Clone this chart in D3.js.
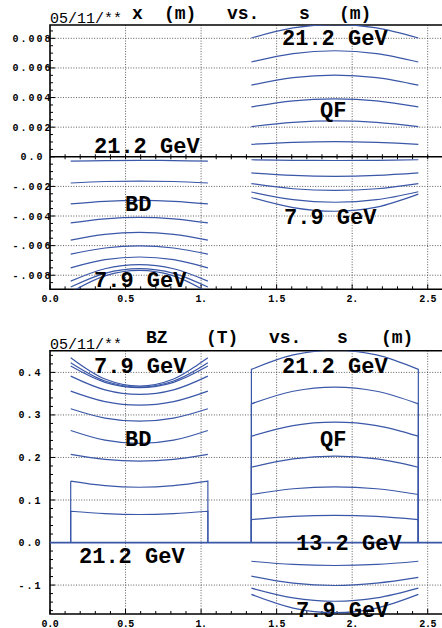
<!DOCTYPE html>
<html>
<head>
<meta charset="utf-8">
<script src="https://cdn.jsdelivr.net/npm/d3@7/dist/d3.min.js"></script>
<style>
  html, body { margin: 0; padding: 0; background: #fff; }
  svg { display: block; }
  text { font-family: "Liberation Mono", "DejaVu Sans Mono", monospace; }
</style>
</head>
<body>
<svg id="chart" width="442" height="628"></svg>
<script>
// ---- sample positions along the beam line (m) ----
const sBD = [0.137, 0.364, 0.591, 0.818, 1.045];
const sQF = [1.333, 1.609, 1.886, 2.162, 2.438];

// ---- horizontal orbit x (m) inside BD, one row per beam energy ----
const xBD = [
  [-0.00030, -0.00026, -0.00024, -0.00026, -0.00030],
  [-0.00177, -0.00167, -0.00164, -0.00167, -0.00177],
  [-0.00318, -0.00301, -0.00295, -0.00301, -0.00318],
  [-0.00447, -0.00419, -0.00409, -0.00419, -0.00447],
  [-0.00563, -0.00524, -0.00511, -0.00524, -0.00563],
  [-0.00658, -0.00616, -0.00602, -0.00616, -0.00658],
  [-0.00750, -0.00695, -0.00677, -0.00695, -0.00750],
  [-0.00840, -0.00756, -0.00728, -0.00756, -0.00840],
  [-0.00880, -0.00787, -0.00756, -0.00787, -0.00880],
  [-0.00915, -0.00804, -0.00767, -0.00804, -0.00915]
];

// ---- horizontal orbit x (m) inside QF ----
const xQF = [
  [0.00802, 0.00870, 0.00893, 0.00870, 0.00802],
  [0.00640, 0.00697, 0.00716, 0.00697, 0.00640],
  [0.00484, 0.00535, 0.00552, 0.00535, 0.00484],
  [0.00337, 0.00378, 0.00391, 0.00378, 0.00337],
  [0.00204, 0.00233, 0.00243, 0.00233, 0.00204],
  [0.00084, 0.00097, 0.00102, 0.00097, 0.00084],
  [-0.00020, -0.00024, -0.00025, -0.00024, -0.00020],
  [-0.00109, -0.00126, -0.00132, -0.00126, -0.00109],
  [-0.00181, -0.00216, -0.00227, -0.00216, -0.00181],
  [-0.00238, -0.00290, -0.00307, -0.00290, -0.00236],
  [-0.00275, -0.00343, -0.00368, -0.00340, -0.00252]
];

// ---- vertical field BZ (T) seen along each orbit in BD ----
const bzBD = [
  [0.0736, 0.0680, 0.0659, 0.0680, 0.0736],
  [0.1442, 0.1336, 0.1300, 0.1336, 0.1442],
  [0.2071, 0.1953, 0.1913, 0.1953, 0.2071],
  [0.2635, 0.2406, 0.2329, 0.2406, 0.2635],
  [0.3146, 0.2927, 0.2854, 0.2927, 0.3146],
  [0.3560, 0.3313, 0.3230, 0.3313, 0.3560],
  [0.3913, 0.3590, 0.3482, 0.3590, 0.3913],
  [0.4149, 0.3767, 0.3640, 0.3767, 0.4149],
  [0.4228, 0.3797, 0.3654, 0.3797, 0.4228],
  [0.4346, 0.3845, 0.3678, 0.3845, 0.4346]
];
// rows of bzBD whose field steps back to zero at the magnet edges
const bzBDEdged = [0, 1];

// ---- vertical field BZ (T) seen along each orbit in QF ----
const bzQF = [
  [0.407, 0.441, 0.4525, 0.441, 0.407],
  [0.326, 0.3556, 0.3655, 0.3556, 0.326],
  [0.250, 0.275, 0.283, 0.275, 0.250],
  [0.177, 0.1965, 0.203, 0.1965, 0.177],
  [0.113, 0.1265, 0.131, 0.1265, 0.113],
  [0.054, 0.0615, 0.064, 0.0615, 0.054],
  [-0.044, -0.0515, -0.054, -0.0515, -0.044],
  [-0.079, -0.0955, -0.101, -0.0955, -0.082],
  [-0.107, -0.130, -0.138, -0.130, -0.107],
  [-0.122, -0.154, -0.165, -0.154, -0.122]
];
const bzQFEdged = [0, 1, 2, 3, 4, 5];

// ---- axis ticks and labels ----
const sTicks = [0, 0.5, 1, 1.5, 2, 2.5];
const sTickLabels = ["0.0", "0.5", "1.", "1.5", "2.", "2.5"];
const xTicks = [0.008, 0.006, 0.004, 0.002, 0, -0.002, -0.004, -0.006, -0.008];
const xTickLabels = ["0.008", "0.006", "0.004", "0.002", "0.0", "-.002", "-.004", "-.006", "-.008"];
const bzTicks = [0.4, 0.3, 0.2, 0.1, 0, -0.1];
const bzTickLabels = ["0.4", "0.3", "0.2", "0.1", "0.0", "-.1"];

const BLUE = "#3a57a8";
const svg = d3.select("#chart");

const sScale = d3.scaleLinear().domain([0, 2.5]).range([50, 427.7]);
const S_MAX = 2.62;

function panel(cfg) {
  const g = svg.append("g");
  const y = d3.scaleLinear().domain(cfg.yDomain).range([cfg.bottom, cfg.top]);
  const left = sScale(0), right = sScale(S_MAX);

  const clipId = "clip-" + cfg.id;
  svg.append("clipPath").attr("id", clipId)
    .append("rect").attr("x", left).attr("y", cfg.top)
    .attr("width", right - left).attr("height", cfg.bottom - cfg.top);

  // dotted grid
  const grid = g.append("g").attr("stroke", "#333").attr("stroke-width", 0.8)
    .attr("stroke-dasharray", "1,1.6");
  sTicks.filter(d => d > 0).forEach(d => {
    grid.append("line").attr("x1", sScale(d)).attr("x2", sScale(d))
      .attr("y1", cfg.top).attr("y2", cfg.bottom);
  });
  cfg.yTicks.filter(d => d !== 0).forEach(d => {
    grid.append("line").attr("x1", left).attr("x2", right)
      .attr("y1", y(d)).attr("y2", y(d));
  });

  // minor / major ticks on the left axis
  const yMinor = d3.range(Math.ceil(cfg.yDomain[0] / cfg.yMinorStep), Math.floor(cfg.yDomain[1] / cfg.yMinorStep) + 1)
    .map(k => k * cfg.yMinorStep);
  const tk = g.append("g").attr("stroke", "#000").attr("stroke-width", 1);
  yMinor.forEach(v => {
    const major = Math.abs(v / cfg.yMajorStep - Math.round(v / cfg.yMajorStep)) < 1e-6;
    tk.append("line").attr("x1", left).attr("x2", left + (major ? 5 : 3))
      .attr("y1", y(v)).attr("y2", y(v));
  });
  // ticks along the bottom axis
  d3.range(0, 26).map(k => k * 0.1).forEach(v => {
    const major = (Math.round(v * 10) % 5) === 0;
    tk.append("line").attr("x1", sScale(v)).attr("x2", sScale(v))
      .attr("y1", cfg.bottom).attr("y2", cfg.bottom - (major ? 5 : 3));
  });

  // zero axis
  if (cfg.zeroAxis) {
    g.append("line").attr("x1", left).attr("x2", right)
      .attr("y1", y(0)).attr("y2", y(0)).attr("stroke", "#000").attr("stroke-width", 1.6);
    d3.range(1, 26).map(k => k * 0.1).forEach(v => {
      tk.append("line").attr("x1", sScale(v)).attr("x2", sScale(v))
        .attr("y1", y(0) - 2.5).attr("y2", y(0) + 2.5);
    });
  }

  // frame
  g.append("path")
    .attr("d", `M${right},${cfg.top}H${left}V${cfg.bottom}H${right}`)
    .attr("fill", "none").attr("stroke", "#000").attr("stroke-width", 1.6);

  // curves
  const line = d3.line().x(d => sScale(d[0])).y(d => y(d[1])).curve(d3.curveCatmullRom.alpha(0.5));
  const curves = g.append("g").attr("clip-path", `url(#${clipId})`)
    .attr("fill", "none").attr("stroke", BLUE).attr("stroke-width", 1.2);

  cfg.sets.forEach(set => {
    set.rows.forEach((row, i) => {
      const pts = row.map((v, k) => [set.s[k], v]);
      let d = line(pts);
      if (set.edged && set.edged.includes(i)) {
        const s0 = set.s[0], s1 = set.s[set.s.length - 1];
        d = `M${sScale(s0)},${y(0)}L${sScale(s0)},${y(row[0])}` + d.replace(/^M/, "L") +
            `L${sScale(s1)},${y(0)}`;
      }
      curves.append("path").attr("d", d);
    });
  });

  if (cfg.zeroField) {
    curves.append("path")
      .attr("d", d3.line().x(d => sScale(d[0])).y(d => y(d[1]))([[0, 0], [S_MAX, 0]]))
      .attr("stroke-width", 1.8);
  }

  // left tick labels
  g.append("g").selectAll("text").data(cfg.yTicks).join("text")
    .attr("x", cfg.labelX).attr("y", d => y(d))
    .attr("dy", "0.35em").attr("text-anchor", "middle")
    .attr("font-size", 10).attr("font-weight", "bold")
    .attr("letter-spacing", cfg.labelSpacing)
    .text((d, i) => cfg.yTickLabels[i]);

  // bottom tick labels
  g.append("g").selectAll("text").data(sTicks).join("text")
    .attr("x", d => sScale(d)).attr("y", cfg.bottom + 9)
    .attr("dy", "0.35em").attr("text-anchor", "middle")
    .attr("font-size", 10).attr("font-weight", "bold")
    .attr("letter-spacing", -0.4)
    .text((d, i) => sTickLabels[i]);

  // date stamp and title
  g.append("text").attr("x", 50).attr("y", cfg.top - 2)
    .attr("font-size", 15).text("05/11/**");
  const title = g.append("text").attr("y", cfg.titleY)
    .attr("font-size", 18).attr("font-weight", "bold");
  cfg.title.forEach(t => title.append("tspan").attr("x", t[1]).text(t[0]));

  // annotations
  g.append("g").selectAll("text").data(cfg.notes).join("text")
    .attr("x", d => d[1]).attr("y", d => d[2])
    .attr("font-size", 22).attr("font-weight", "bold")
    .text(d => d[0]);
}

panel({
  id: "x", top: 25, bottom: 289.3, yDomain: [-0.00895, 0.0089],
  yTicks: xTicks, yTickLabels: xTickLabels, yMinorStep: 0.0005, yMajorStep: 0.002,
  labelX: 32.5, labelSpacing: 2, zeroAxis: true, zeroField: false,
  titleY: 18.5,
  title: [["x", 132], ["(m)", 164], ["vs.", 227], ["s", 299], ["(m)", 339]],
  sets: [{ s: sBD, rows: xBD }, { s: sQF, rows: xQF }],
  notes: [["21.2 GeV", 282, 45], ["QF", 320, 117], ["21.2 GeV", 94, 152.5],
          ["BD", 125, 210.5], ["7.9 GeV", 284, 224], ["7.9 GeV", 94, 287]]
});

panel({
  id: "bz", top: 350.7, bottom: 614, yDomain: [-0.168, 0.451],
  yTicks: bzTicks, yTickLabels: bzTickLabels, yMinorStep: 0.02, yMajorStep: 0.1,
  labelX: 30.5, labelSpacing: 2, zeroAxis: false, zeroField: true,
  titleY: 343.3,
  title: [["BZ", 146], ["(T)", 206], ["vs.", 269], ["s", 337], ["(m)", 381]],
  sets: [{ s: sBD, rows: bzBD, edged: bzBDEdged }, { s: sQF, rows: bzQF, edged: bzQFEdged }],
  notes: [["7.9 GeV", 94, 373], ["21.2 GeV", 282, 373], ["BD", 125, 445.5],
          ["QF", 320, 446], ["21.2 GeV", 79, 563], ["13.2 GeV", 296, 550], ["7.9 GeV", 296, 617]]
});
</script>
</body>
</html>
